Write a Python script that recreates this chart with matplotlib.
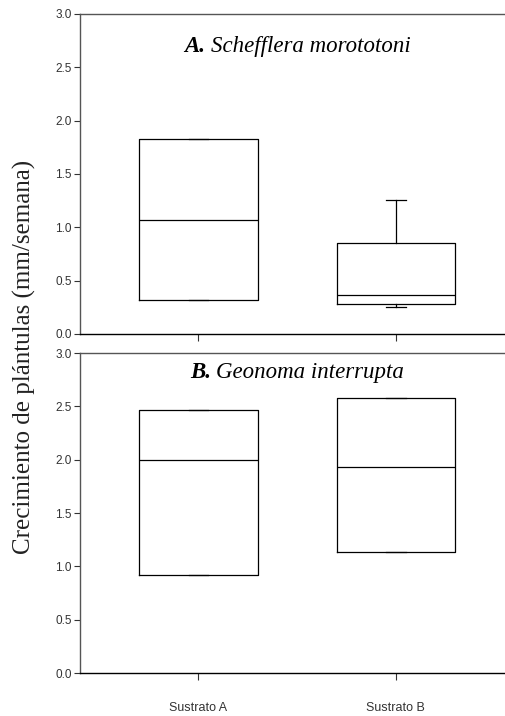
import matplotlib.pyplot as plt

# data (mm/semana)
sustratos = ["Sustrato A", "Sustrato B"]

# A. Schefflera morototoni
sch_q1 = [0.32, 0.28]
sch_med = [1.07, 0.37]
sch_q3 = [1.83, 0.85]
sch_lo = [0.32, 0.25]
sch_hi = [1.83, 1.26]

# B. Geonoma interrupta
geo_q1 = [0.92, 1.13]
geo_med = [2.00, 1.93]
geo_q3 = [2.47, 2.58]
geo_lo = [0.92, 1.13]
geo_hi = [2.47, 2.58]

yticks = [0.0, 0.5, 1.0, 1.5, 2.0, 2.5, 3.0]


def make_stats(q1, med, q3, lo, hi):
    out = []
    for i in range(len(q1)):
        out.append({"q1": q1[i], "med": med[i], "q3": q3[i],
                    "whislo": lo[i], "whishi": hi[i], "fliers": []})
    return out


fig = plt.figure(figsize=(5.06, 7.16), dpi=100)
W, H = 506.0, 716.0
ax1 = fig.add_axes([80 / W, 1 - 334 / H, 440 / W, 320 / H])
ax2 = fig.add_axes([80 / W, 1 - 673 / H, 440 / W, 320 / H])

panels = [
    (ax1, make_stats(sch_q1, sch_med, sch_q3, sch_lo, sch_hi), "A.", "Schefflera morototoni", 0.899),
    (ax2, make_stats(geo_q1, geo_med, geo_q3, geo_lo, geo_hi), "B.", "Geonoma interrupta", 0.939),
]

lw = 0.9
tfs = 16.5
for ax, stats, letter, species, ty in panels:
    ax.bxp(stats, positions=[1, 2], widths=0.6, showfliers=False,
           capwidths=0.1,
           boxprops=dict(color="black", linewidth=lw),
           medianprops=dict(color="black", linewidth=lw),
           whiskerprops=dict(color="black", linewidth=lw),
           capprops=dict(color="black", linewidth=lw))
    ax.set_xlim(0.4, 2.63)
    ax.set_ylim(0, 3.0)
    ax.set_yticks(yticks)
    ax.set_yticklabels(["%.1f" % v for v in yticks], family="Liberation Sans", fontsize=8.5)
    ax.spines["right"].set_visible(False)
    ax.spines["left"].set_color("#555555")
    ax.spines["top"].set_color("#555555")
    ax.spines["bottom"].set_color("black")
    for s in ["left", "top", "bottom"]:
        ax.spines[s].set_linewidth(1.0)
    ax.tick_params(axis="y", direction="out", length=4, width=0.8, pad=2, colors="#333333")
    ax.tick_params(axis="x", direction="out", length=5, width=0.8, colors="#333333")

ax1.set_xticks([1, 2])
ax1.set_xticklabels([])
ax2.set_xticks([1, 2])
ax2.set_xticklabels(sustratos, family="Liberation Sans", fontsize=9)
ax2.tick_params(axis="x", pad=16)

# titles: bold italic letter + italic species, centred at x = 1.5
fig.canvas.draw()
renderer = fig.canvas.get_renderer()
for ax, stats, letter, species, ty in panels:
    a = ax.text(0, 0, letter + " ", fontsize=tfs, family="Liberation Serif",
                style="italic", weight="bold")
    b = ax.text(0, 0, species, fontsize=tfs, family="Liberation Serif", style="italic")
    wa = a.get_window_extent(renderer).width
    wb = b.get_window_extent(renderer).width
    a.remove()
    b.remove()
    xc = ax.transData.transform((1.5, 0))[0]
    x0 = xc - (wa + wb) / 2
    inv = ax.transData.inverted()
    xa = inv.transform((x0, 0))[0]
    xb = inv.transform((x0 + wa, 0))[0]
    ax.text(xa, ty, letter + " ", transform=ax.get_xaxis_transform(), fontsize=tfs,
            family="Liberation Serif", style="italic", weight="bold", va="center")
    ax.text(xb, ty, species, transform=ax.get_xaxis_transform(), fontsize=tfs,
            family="Liberation Serif", style="italic", va="center")

fig.text(24 / W, 1 - 357 / H, "Crecimiento de plántulas (mm/semana)", rotation=90,
         family="Liberation Serif", fontsize=18, ha="center", va="center", color="#222222")

fig.savefig("out.png", dpi=100)
